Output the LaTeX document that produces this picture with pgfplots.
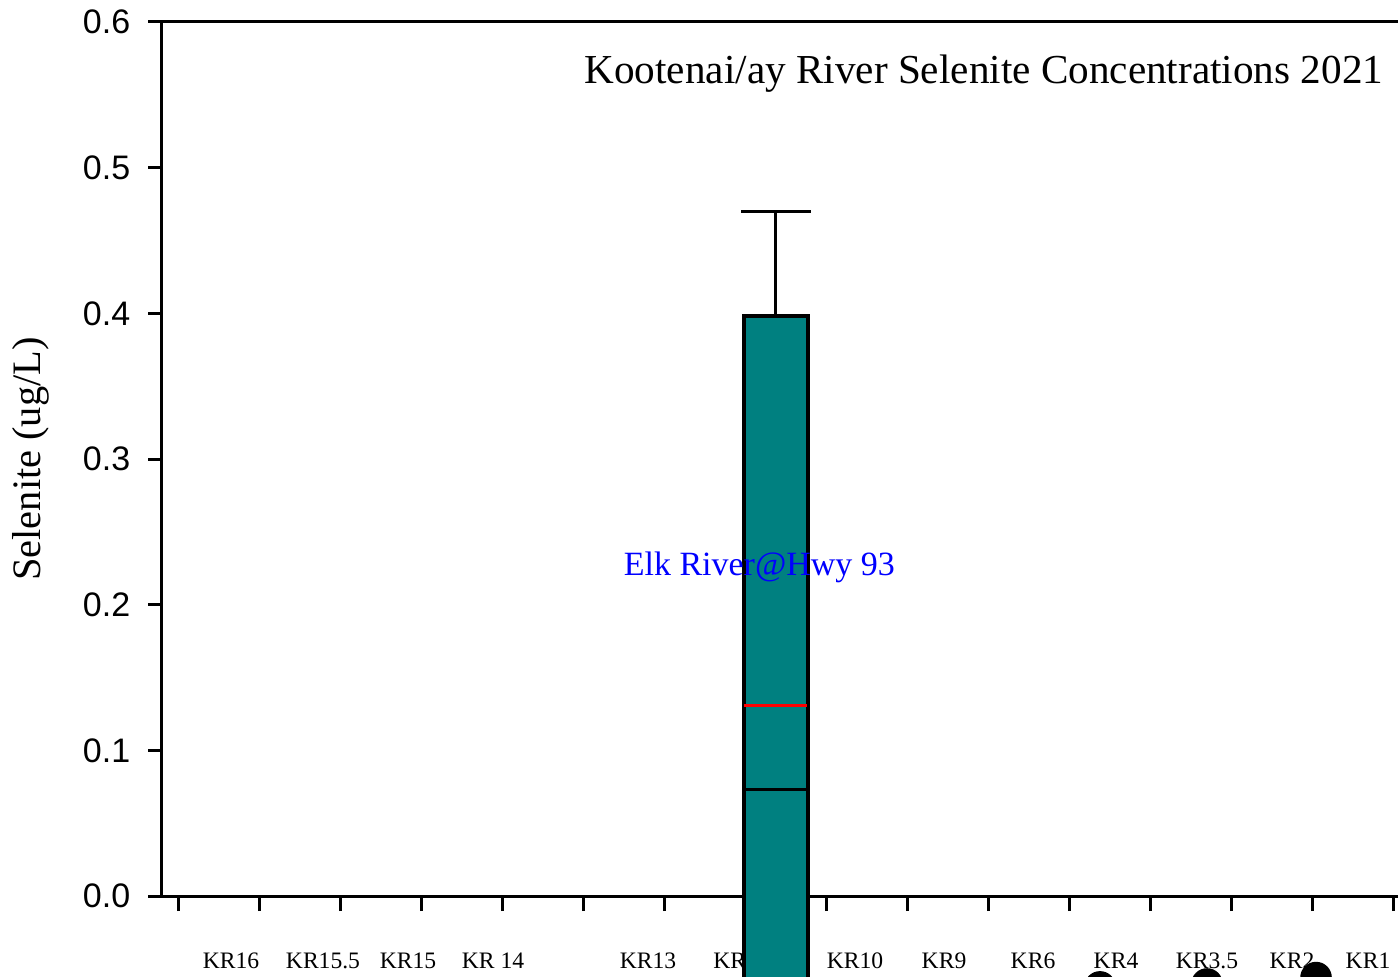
\documentclass[border=0pt]{standalone}
\usepackage{pgfplots}
\pgfplotsset{compat=1.18}
\usepackage{fontspec}
\setmainfont{Liberation Serif}
\newfontfamily\arialfont{Liberation Sans}
\definecolor{tealbox}{RGB}{0,128,128}
\begin{document}
\begin{tikzpicture}
\begin{axis}[
  at={(40.25pt,20pt)}, anchor=south west,
  scale only axis, width=312.25pt, height=218.5pt,
  xmin=161, xmax=1410, ymin=0, ymax=0.6,
  clip=false,
  axis line style={line width=0.75pt},
  tick pos=left, tick align=outside,
  major tick length=3.25pt,
  ytick={0,0.1,0.2,0.3,0.4,0.5,0.6},
  major tick style={line width=0.75pt, black},
  y tick label style={font=\fontsize{8.5}{10}\selectfont\arialfont, /pgf/number format/assume math mode=true,
     /pgf/number format/fixed, /pgf/number format/fixed zerofill, /pgf/number format/precision=1,
     anchor=east, inner sep=0pt},
  yticklabel shift=4.25pt,
  xtick={231,323,408,493,648,741,855,944,1033,1116,1207,1292,1368},
  xticklabels={KR16,KR15.5,KR15,KR 14,KR13,KR11,KR10,KR9,KR6,KR4,KR3.5,KR2,KR1},
  x tick label style={font=\fontsize{5.9}{7}\selectfont, anchor=base, yshift=-14.8pt, inner sep=0pt},
  xtick style={draw=none},
  extra x ticks={178,259.06,340.12,421.18,502.24,583.3,664.36,745.42,826.48,907.54,988.6,1069.66,1150.72,1231.78,1312.84,1393.9},
  extra x tick labels={},
  extra x tick style={xtick style={draw=black, yshift=-0.5pt}},
  ylabel={Selenite (ug/L)},
  ylabel style={font=\fontsize{10.1}{12}\selectfont, at={(axis description cs:-0.1041,0.5)}, anchor=center},
]
% box (lower quartile below the visible range)
\addplot[fill=tealbox, draw=black, line width=1pt] coordinates {(743.5,-0.1) (743.5,0.3982) (807.5,0.3982) (807.5,-0.1)} -- cycle;
% upper whisker and cap
\addplot[black, line width=0.75pt] coordinates {(775.5,0.3982) (775.5,0.4702)};
\addplot[black, line width=0.75pt] coordinates {(741,0.4702) (810.5,0.4702)};
% median
\addplot[black, line width=0.75pt] coordinates {(744,0.0728) (807,0.0728)};
% mean
\addplot[red, line width=0.75pt] coordinates {(744,0.1306) (807,0.1306)};
% outliers
\addplot[only marks, mark=*, mark size=3.75pt, black] coordinates {(1100,-0.0624) (1207,-0.0604) (1316,-0.056)};
\node[anchor=base east, font=\fontsize{10.3}{12}\selectfont, inner sep=0pt] at (axis cs:1384,0.5581) {Kootenai/ay River Selenite Concentrations 2021};
\node[anchor=base west, font=\fontsize{8.5}{10}\selectfont, text=blue, inner sep=0pt] at (axis cs:623,0.2197) {Elk River@Hwy 93};
\end{axis}
\pgfresetboundingbox
\path[use as bounding box] (0,0) rectangle (349.5pt,244pt);
\end{tikzpicture}
\end{document}
